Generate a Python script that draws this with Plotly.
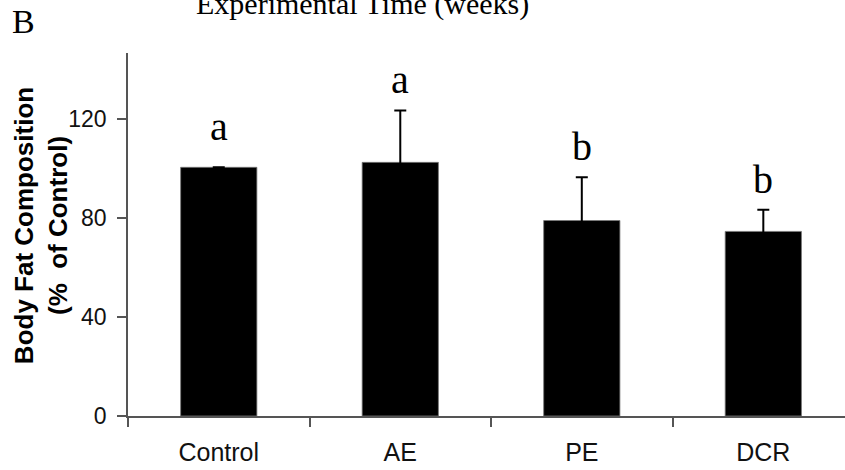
import plotly.graph_objects as go

categories = ["Control", "AE", "PE", "DCR"]
values = [100.5, 102.5, 79.0, 74.6]
errors = [None, 21.0, 17.5, 8.8]
letters = ["a", "a", "b", "b"]
y_ticks = [0, 40, 80, 120]

fig = go.Figure()
fig.add_trace(go.Bar(
    x=categories, y=values,
    marker=dict(color="black", line=dict(width=0.8, color="#777")),
    error_y=dict(type="data", symmetric=False, array=errors,
                 arrayminus=[None if e is None else 4 for e in errors],
                 color="black", thickness=2, width=6),
    showlegend=False,
))

for c, v, e, t in zip(categories, values, errors, letters):
    top = v + max(e or 0, 4)
    fig.add_annotation(x=c, y=top, xref="x", yref="y", text=t,
                       showarrow=False, yanchor="bottom", yshift=6,
                       font=dict(family="Liberation Serif", size=40, color="black"))

# y-axis title (two lines, rotated)
fig.add_annotation(x=0, y=0.523, xref="paper", yref="paper",
                   text="<b>Body Fat Composition</b><br><b>(%  of Control)</b>",
                   textangle=-90, showarrow=False, xanchor="center", yanchor="middle",
                   xshift=-87,
                   font=dict(family="Liberation Sans", size=26, color="black"))

# panel letter and cut-off header from the original figure
fig.add_annotation(x=-0.1645, y=1.088, xref="paper", yref="paper", text="B",
                   showarrow=False, xanchor="left", yanchor="middle",
                   font=dict(family="Liberation Serif", size=34, color="black"))
fig.add_annotation(x=0.3264, y=1.136, xref="paper", yref="paper",
                   text="Experimental Time (weeks)",
                   showarrow=False, xanchor="center", yanchor="middle",
                   font=dict(family="Liberation Serif", size=30, color="black"))

fig.update_layout(
    width=845, height=470,
    margin=dict(l=128, r=0, t=53, b=54),
    paper_bgcolor="white", plot_bgcolor="white",
    bargap=0.58,
    font=dict(family="Liberation Sans", color="#222"),
)
fig.update_xaxes(
    range=[-0.5, 3.45], showline=True, linecolor="#555", linewidth=1.5,
    ticks="outside", tickson="boundaries", ticklen=9, tickcolor="#555", tickwidth=1.5,
    tickfont=dict(family="Liberation Sans", size=25, color="#111"),
    ticklabelstandoff=13, showgrid=False, zeroline=False,
)
fig.update_yaxes(
    range=[0, 146.7], tickvals=y_ticks, showline=True, linecolor="#555", linewidth=1.5,
    ticks="outside", ticklen=9, tickcolor="#555", tickwidth=1.5,
    tickfont=dict(family="Liberation Sans", size=23, color="#111"),
    ticklabelstandoff=6, showgrid=False, zeroline=False,
)

fig.write_html("out.html")
